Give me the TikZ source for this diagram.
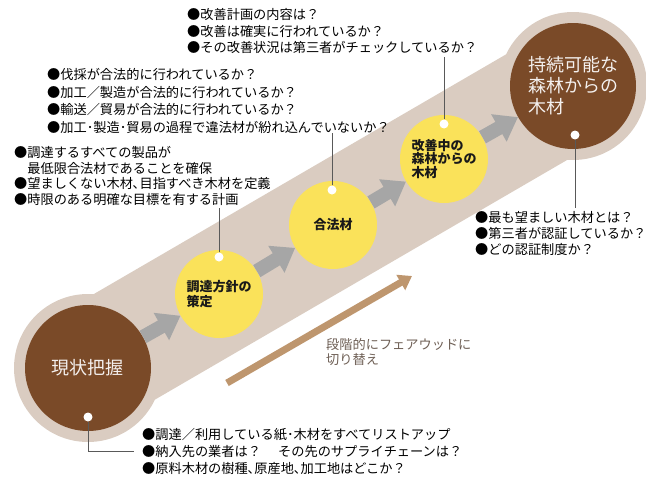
\documentclass[tikz,border=0pt]{standalone}
\usepackage{fontspec}
\newfontfamily\jp{Noto Sans CJK JP}
\usetikzlibrary{positioning,arrows.meta}
\definecolor{band}{RGB}{218,204,193}
\definecolor{bark}{RGB}{122,74,40}
\definecolor{sun}{RGB}{250,226,90}
\definecolor{shade}{RGB}{166,166,166}
\definecolor{wood}{RGB}{190,150,110}
\definecolor{labelc}{RGB}{110,95,85}

\begin{document}
\begin{tikzpicture}[x=1pt,y=-1pt,font=\jp,
    main node/.style={circle,inner sep=0pt,minimum size=126pt,fill=bark,text=white!92!bark,align=left,font=\jp\fontsize{18}{21}\selectfont},
    step node/.style={circle,inner sep=0pt,minimum size=88pt,fill=sun,text=black!90,align=left,font=\jp\bfseries\fontsize{13}{#1}\selectfont},
    step node/.default=15.5,
    halo/.style={circle,fill=band,inner sep=0pt,minimum size=148pt},
    dot/.style={circle,fill=white,inner sep=0pt,minimum size=9pt},
    note/.style={anchor=north west,inner sep=0pt,align=left,text=black,font=\jp\fontsize{13.2}{#1}\selectfont},
    go/.style={draw=shade,line width=14pt,-{Triangle[width=30pt,length=22pt]}},
    pin/.style={draw=black!65,line width=0.8pt}]
\useasboundingbox (0,0) rectangle (646,479);

% band and halos
\coordinate (c0) at (88,368);
\coordinate (c4) at (573,86);
\draw[band,line width=122pt] (c0) -- (c4);
\node[halo] at (c0) {};
\node[halo] at (c4) {};

% stages
\node[main node] (now) at (c0) {現状把握};
\node[step node] (policy) at (219,294) {調達方針の\\策定};
\node[step node] (legal) at (333,225) {合法材};
\node[step node=13.5] (better) at (444,159) {改善中の\\森林からの\\木材};
\node[main node] (goal) at (c4) {持続可能な\\森林からの\\木材};

\draw[go] (now) -- (policy);
\draw[go] (policy) -- (legal);
\draw[go] (legal) -- (better);
\draw[go] (better) -- (goal);

% dots
\node[dot] (nowdot) at (88,417) {};
\node[dot] (pdot) at (219,257) {};
\node[dot] (ldot) at (332,190) {};
\node[dot] (bdot) at (444,124) {};
\node[dot] (gdot) at (575,135) {};

% notes
\node[note=16.5] (b1) at (187,8.2) {●改善計画の内容は？\\●改善は確実に行われているか？\\●その改善状況は第三者がチェックしているか？};
\node[note=17.5] (b2) at (47,68.2) {●伐採が合法的に行われているか？\\●加工／製造が合法的に行われているか？\\●輸送／貿易が合法的に行われているか？\\●加工･製造･貿易の過程で違法材が紛れ込んでいないか？};
\node[note=15.5] (b3) at (14,146.2) {●調達するすべての製品が\\\hspace*{1em}最低限合法材であることを確保\\●望ましくない木材､目指すべき木材を定義\\●時限のある明確な目標を有する計画};
\node[note=17] (b4) at (142,428.2) {●調達／利用している紙･木材をすべてリストアップ\\●納入先の業者は？\hspace{1.3em}その先のサプライチェーンは？\\●原料木材の樹種､原産地､加工地はどこか？};
\node[note=16] (b5) at (475,211.2) {●最も望ましい木材とは？\\●第三者が認証しているか？\\●どの認証制度か？};

\draw[pin] (nowdot.south) |- ([xshift=-8pt]b4.west);
\draw[pin,shorten >=3pt] (pdot.north) -- (pdot |- b3.south);
\draw[pin] (ldot.north) -- (ldot |- b2.south);
\draw[pin,shorten >=3pt] (bdot.north) -- (bdot |- b1.south);
\draw[pin,shorten >=3pt] (gdot.south) -- (gdot |- b5.north);

% shift arrow
\coordinate (s0) at (227,383);
\coordinate (s1) at (412,276);
\draw[wood,line width=7pt,-{Triangle[width=17pt,length=13pt]}] (s0) -- (s1);
\node[anchor=north west,inner sep=0pt,align=left,text=labelc,font=\jp\fontsize{13.2}{15}\selectfont] (shift) at (326,338.2) {段階的にフェアウッドに\\切り替え};
\end{tikzpicture}
\end{document}
